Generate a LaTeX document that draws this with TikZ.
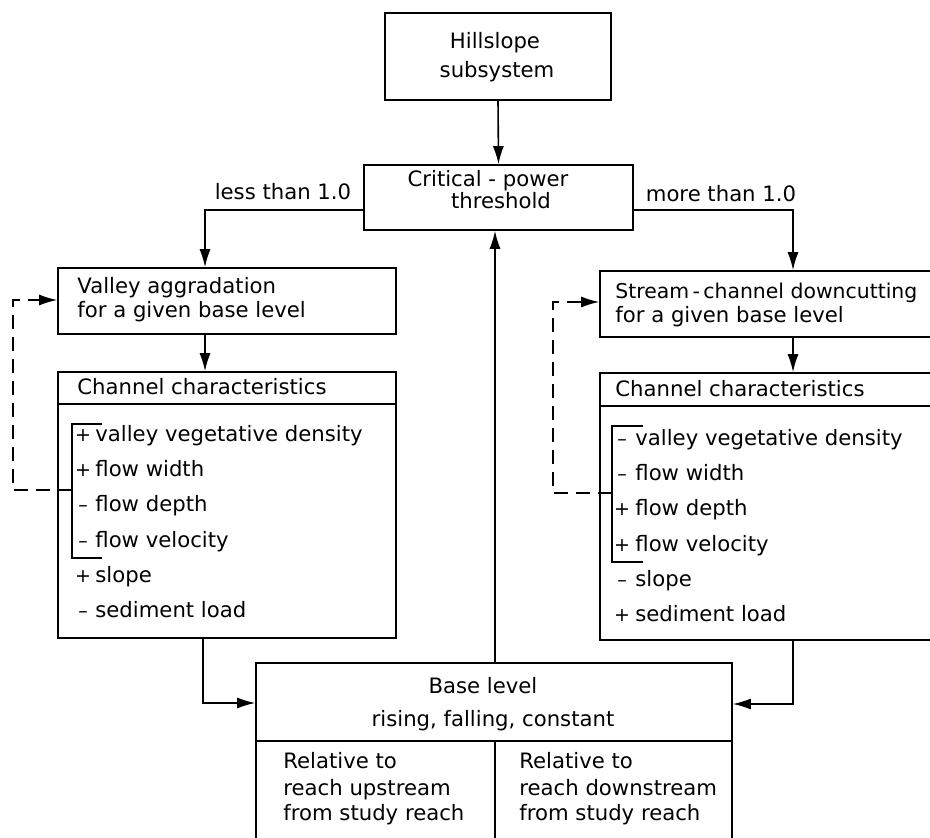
\documentclass[tikz,border=0pt]{standalone}
\usepackage{fontspec}
\setmainfont{DejaVu Sans}
\usetikzlibrary{arrows.meta}
\begin{document}
\begin{tikzpicture}[x=0.5pt,y=-0.5pt,
  every node/.style={font=\fontsize{10.6}{12}\selectfont, inner sep=0pt},
  box/.style={draw, line width=0.8pt, inner sep=0pt, rectangle},
  txt/.style={anchor=mid west},
  ctr/.style={anchor=mid},
  sgn/.style={anchor=mid, font=\fontsize{9.5}{10}\selectfont},
  ln/.style={line width=0.8pt},
  arr/.style={line width=0.8pt, -{Latex[length=9pt,width=5.5pt]}},
  fb/.style={arr, dash pattern=on 7pt off 4pt}]
\useasboundingbox (0,0) rectangle (930,838);

% boxes
\node[box, minimum width=113pt, minimum height=43.5pt] (hill) at (498,56.5) {};
\node[box, minimum width=134.5pt, minimum height=32.5pt] (crit) at (498.5,197.5) {};
\node[box, minimum width=169pt, minimum height=33pt] (valley) at (227,301) {};
\node[box, minimum width=169pt, minimum height=133pt] (chanL) at (227,505) {};
\node[box, minimum width=180pt, minimum height=33pt] (stream) at (780,304) {};
\node[box, minimum width=180pt, minimum height=133.5pt] (chanR) at (780,506.5) {};
\node[box, minimum width=238pt, minimum height=98.5pt] (base) at (494,761.5) {};

% texts
\node[ctr] (t1) at (495,43) {Hillslope};
\node[ctr] (t2) at (497,72) {subsystem};
\node[ctr] (t3) at (488,181) {Critical - power};
\node[ctr] (t4) at (501,203) {threshold};
\node[ctr] (less) at (283,194) {less than 1.0};
\node[ctr] (more) at (721,196) {more than 1.0};
\node[txt] (t5) at (77,288) {Valley aggradation};
\node[txt] (t6) at (77,312) {for a given base level};
\node[txt, font=\fontsize{10.2}{12}\selectfont] (t7) at (615,293) {Stream\,-\,channel downcutting};
\node[txt] (t8) at (615,317) {for a given base level};
\node[txt] (hL) at (77,389) {Channel characteristics};
\node[txt] (hR) at (615,391) {Channel characteristics};
\node[ctr] (b1) at (483,688) {Base level};
\node[ctr] (b2) at (493,721) {rising, falling, constant};
\node[txt] (b3) at (283,763) {Relative to};
\node[txt] (b4) at (283,790) {reach upstream};
\node[txt] (b5) at (283,815) {from study reach};
\node[txt] (b6) at (519,763) {Relative to};
\node[txt] (b7) at (519,790) {reach downstream};
\node[txt] (b8) at (519,815) {from study reach};

\foreach \s/\t [count=\i] in {+/valley vegetative density, +/flow width, –/flow depth, –/flow velocity, +/slope, –/sediment load} {
  \pgfmathsetmacro\yy{436+(\i-1)*35.2}
  \node[sgn] (Ls\i) at (83,\yy) {\s};
  \node[txt] (Lt\i) at (95,\yy) {\t};
}
\foreach \s/\t [count=\i] in {–/valley vegetative density, –/flow width, +/flow depth, +/flow velocity, –/slope, +/sediment load} {
  \pgfmathsetmacro\yy{440+(\i-1)*35.2}
  \node[sgn] (Rs\i) at (622,\yy) {\s};
  \node[txt] (Rt\i) at (635,\yy) {\t};
}

% dividers
\draw[ln] (chanL.west |- 0,404) -- (chanL.east |- 0,404);
\draw[ln] (chanR.west |- 0,406) -- (chanR.east |- 0,406);
\coordinate (cx) at (495,741);
\draw[ln] (base.west |- cx) -- (base.east |- cx);
\draw[ln] (cx) -- (base.south -| cx);

% brackets
\draw[ln] (102,424) -- (72,424) -- (72,558) -- (102,558);
\draw[ln] (643,426) -- (612,426) -- (612,562) -- (643,562);
\coordinate (brL) at (72,490);
\coordinate (brR) at (612,493);
\coordinate (fbL) at (13,300);
\coordinate (fbR) at (553,302);
\draw[fb] (brL) -| (fbL) -- (valley.west |- fbL);
\draw[fb] (brR) -| (fbR) -- (stream.west |- fbR);

% connectors
\coordinate (lt) at (205,210);
\coordinate (rt) at (793,210);
\coordinate (lb) at (203,703);
\coordinate (rb) at (793,704);
\draw[arr] (hill.south) -- (crit.north);
\draw[arr] (crit.west |- lt) -| (valley.north -| lt);
\draw[arr] (crit.east |- rt) -| (stream.north -| rt);
\draw[arr] (valley.south -| lt) -- (chanL.north -| lt);
\draw[arr] (stream.south -| rt) -- (chanR.north -| rt);
\draw[arr] (chanL.south -| lb) |- (base.west |- lb);
\draw[arr] (chanR.south -| rb) |- (base.east |- rb);
\draw[arr] (base.north -| cx) -- (crit.south -| cx);
\end{tikzpicture}
\end{document}
